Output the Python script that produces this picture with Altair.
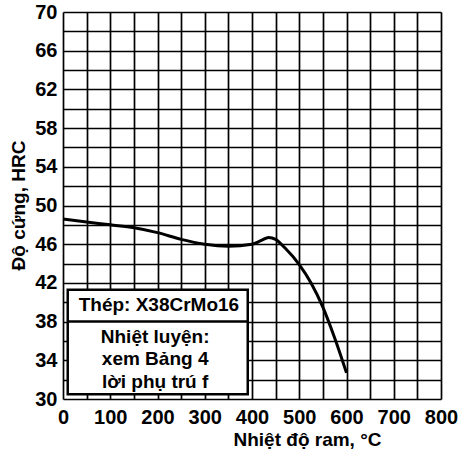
import altair as alt
import pandas as pd

# Curve
temps = [0, 50, 100, 150, 200, 250, 300, 350, 400, 420, 435, 450, 470, 500, 525, 550, 575, 600]
hardness = [48.6, 48.3, 48.0, 47.7, 47.2, 46.5, 46.0, 45.8, 46.0, 46.4, 46.7, 46.5, 45.6, 43.9, 42.0, 39.5, 36.3, 32.7]

# Grid and tick labels
x_grid = list(range(0, 801, 50))
y_grid = list(range(30, 71, 2))
x_labels = [0, 100, 200, 300, 400, 500, 600, 700, 800]
y_labels = [30, 34, 38, 42, 46, 50, 54, 58, 62, 66, 70]

# Annotation box (in data units)
box_x = [10, 391]
box_y = [30.5, 41.3]
box_split = 38.0
box_title = "Thép: X38CrMo16"
box_title_pos = [203, 39.7]
note_lines = ["Nhiệt luyện:", "xem Bảng 4", "lời phụ trú f"]
note_y = [36.4, 34.1, 31.8]
note_x = 195

FONT = "Liberation Sans"

curve_df = pd.DataFrame({"t": temps, "h": hardness})

x_scale = alt.Scale(domain=[0, 800], nice=False, zero=False)
y_scale = alt.Scale(domain=[30, 70], nice=False, zero=False)

x_lab = "|".join(str(v) for v in x_labels)
y_lab = "|".join(str(v) for v in y_labels)

x_axis = alt.Axis(
    values=x_grid, tickCount=len(x_grid),
    labelExpr="indexof('|" + x_lab + "|', '|' + datum.value + '|') >= 0 ? datum.label : ''",
    grid=True, gridColor="black", gridWidth=1.7, gridOpacity=1,
    ticks=False, domain=False,
    labelFont=FONT, labelFontSize=20, labelFontWeight="bold", labelColor="black",
    labelPadding=8, labelFlush=False, labelOverlap=False, labelBound=False,
    title="Nhiệt độ ram, °C", titleFont=FONT, titleFontSize=19, titleFontWeight="bold",
    titleColor="black", titleX=244, titleY=46, titleAlign="center",
    titleBaseline="alphabetic",
)
y_axis = alt.Axis(
    values=y_grid, tickCount=len(y_grid),
    labelExpr="indexof('|" + y_lab + "|', '|' + datum.value + '|') >= 0 ? datum.label : ''",
    grid=True, gridColor="black", gridWidth=1.7, gridOpacity=1,
    ticks=False, domain=False,
    labelFont=FONT, labelFontSize=20, labelFontWeight="bold", labelColor="black",
    labelPadding=6, labelFlush=False, labelOverlap=False, labelBound=False,
    title="Độ cứng, HRC", titleFont=FONT, titleFontSize=19, titleFontWeight="bold",
    titleColor="black", titleX=-45, titleY=193, titleAlign="center", titleBaseline="middle",
)

curve = alt.Chart(curve_df).mark_line(
    color="black", strokeWidth=3, interpolate="monotone"
).encode(
    x=alt.X("t:Q", scale=x_scale, axis=x_axis),
    y=alt.Y("h:Q", scale=y_scale, axis=y_axis),
)

box_df = pd.DataFrame({"x1": [box_x[0]], "x2": [box_x[1]], "y1": [box_y[0]], "y2": [box_y[1]]})
box = alt.Chart(box_df).mark_rect(fill="white", stroke="black", strokeWidth=2.5).encode(
    x=alt.X("x1:Q", scale=x_scale, axis=x_axis), x2="x2:Q",
    y=alt.Y("y1:Q", scale=y_scale, axis=y_axis), y2="y2:Q",
)
split_df = pd.DataFrame({"x1": [box_x[0]], "x2": [box_x[1]], "y": [box_split]})
split = alt.Chart(split_df).mark_rule(color="black", strokeWidth=2.5).encode(
    x=alt.X("x1:Q", scale=x_scale, axis=x_axis), x2="x2:Q",
    y=alt.Y("y:Q", scale=y_scale, axis=y_axis),
)

text_df = pd.DataFrame({
    "x": [box_title_pos[0]] + [note_x] * len(note_lines),
    "y": [box_title_pos[1]] + note_y,
    "s": [box_title] + note_lines,
})
texts = alt.Chart(text_df).mark_text(
    font=FONT, fontSize=19, fontWeight="bold", color="black", align="center", baseline="middle"
).encode(
    x=alt.X("x:Q", scale=x_scale, axis=x_axis),
    y=alt.Y("y:Q", scale=y_scale, axis=y_axis),
    text="s:N",
)

chart = alt.layer(box, split, texts, curve).properties(
    width=378, height=387,
    padding={"left": 63, "top": 12, "right": 20, "bottom": 52},
    autosize=alt.AutoSizeParams(type="none"),
).configure_view(
    stroke="black", strokeWidth=2.5, fill="white"
).configure(background="white")

chart.save("out.html", embed_options={"renderer": "svg", "actions": False})
